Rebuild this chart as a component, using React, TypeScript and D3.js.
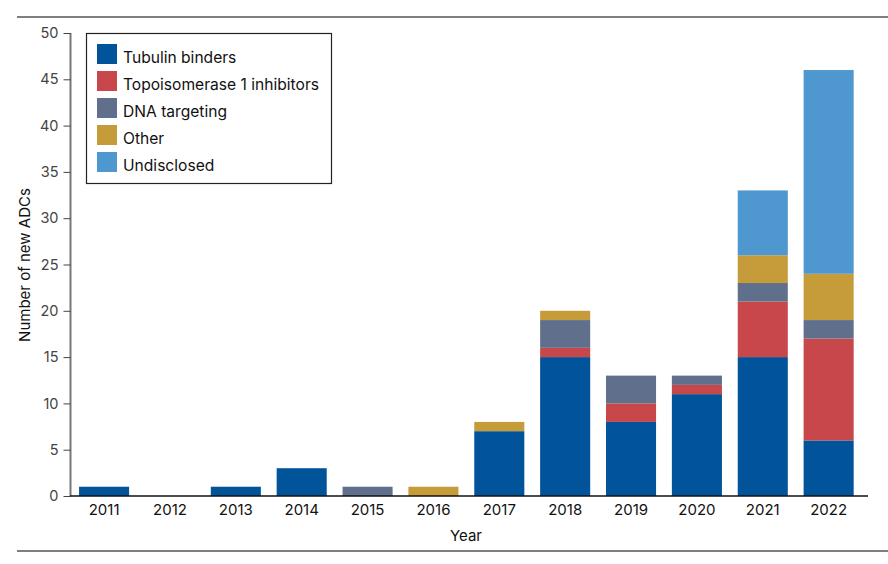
import * as d3 from 'd3';
import { useRef, useEffect } from "react"

const years = ["2011", "2012", "2013", "2014", "2015", "2016", "2017", "2018", "2019", "2020", "2021", "2022"]
const seriesNames = ["Tubulin binders", "Topoisomerase 1 inhibitors", "DNA targeting", "Other", "Undisclosed"]
const tubulin = [1, 0, 1, 3, 0, 0, 7, 15, 8, 11, 15, 6]
const topo1 = [0, 0, 0, 0, 0, 0, 0, 1, 2, 1, 6, 11]
const dnaTargeting = [0, 0, 0, 0, 1, 0, 0, 3, 3, 1, 2, 2]
const other = [0, 0, 0, 0, 0, 1, 1, 1, 0, 0, 3, 5]
const undisclosed = [0, 0, 0, 0, 0, 0, 0, 0, 0, 0, 7, 22]
const yTicks = [0, 5, 10, 15, 20, 25, 30, 35, 40, 45, 50]
const colors = ["#01539a", "#c8474a", "#606f8b", "#c69c3a", "#4e97cf"]

function App() {
    const ref = useRef<SVGSVGElement | null>(null)

    useEffect(() => {
        renderChart();
    }, [])

    function renderChart() {
        const svg = d3.select(ref.current!)
        svg.selectAll("*").remove()
        const font = "Inter, 'Noto Sans', sans-serif"

        // frame lines, top and bottom
        svg.append("line").attr("x1", 17).attr("x2", 888).attr("y1", 17).attr("y2", 17)
            .attr("stroke", "#555").attr("stroke-width", 1.5)
        svg.append("line").attr("x1", 17).attr("x2", 888).attr("y1", 551).attr("y2", 551)
            .attr("stroke", "#555").attr("stroke-width", 1.5)

        const table = years.map((year, i) => ({
            year,
            s0: tubulin[i], s1: topo1[i], s2: dnaTargeting[i], s3: other[i], s4: undisclosed[i]
        }))
        const keys = ["s0", "s1", "s2", "s3", "s4"]
        const stacked = d3.stack<any>().keys(keys)(table)

        const x = d3.scaleBand().domain(years).range([71, 868])
            .paddingInner(0.24).paddingOuter(0.17).align(0.36)
        const y = d3.scaleLinear().domain([0, 50]).range([496, 33])

        // bars
        svg.append("g").selectAll("g")
            .data(stacked)
            .enter()
            .append("g")
            .attr("fill", (_d, i) => colors[i])
            .selectAll("rect")
            .data(d => d)
            .enter()
            .append("rect")
            .attr("x", d => x(d.data.year)!)
            .attr("width", x.bandwidth())
            .attr("y", d => y(d[1]))
            .attr("height", d => y(d[0]) - y(d[1]))

        // Y axis
        const yAxis = svg.append("g")
            .attr("transform", "translate(70.5,0)")
            .call(d3.axisLeft(y).tickValues(yTicks).tickSize(7).tickPadding(5))
        yAxis.select(".domain").attr("stroke", "#777").attr("stroke-width", 2)
            .attr("d", "M0," + y(50) + "V" + y(0))
        yAxis.selectAll(".tick line").attr("stroke", "#444")
        yAxis.selectAll(".tick text").attr("fill", "#444").style("font-family", font).style("font-size", "14.5px")

        // X axis
        const xAxis = svg.append("g")
            .attr("transform", "translate(0,496)")
            .call(d3.axisBottom(x).tickSize(0).tickPadding(8))
        xAxis.select(".domain").attr("stroke", "#111").attr("stroke-width", 1.5)
            .attr("d", "M70,0H868")
        xAxis.selectAll(".tick text").attr("fill", "#111").style("font-family", font).style("font-size", "15px")

        // axis labels
        svg.append("text")
            .attr("x", 466).attr("y", 541)
            .attr("text-anchor", "middle")
            .style("font-family", font).style("font-size", "15px").attr("fill", "#111")
            .text("Year")
        svg.append("text")
            .attr("transform", "translate(30,265) rotate(-90)")
            .attr("text-anchor", "middle")
            .style("font-family", font).style("font-size", "15px").attr("fill", "#111")
            .text("Number of new ADCs")

        // legend
        const legend = svg.append("g")
        legend.append("rect").attr("x", 86.5).attr("y", 33.5).attr("width", 245).attr("height", 150)
            .attr("fill", "white").attr("stroke", "#222").attr("stroke-width", 1.2)
        seriesNames.forEach((name, i) => {
            legend.append("rect").attr("x", 97).attr("y", 44 + i * 27).attr("width", 20).attr("height", 20)
                .attr("fill", colors[i])
            legend.append("text").attr("x", 123).attr("y", 59 + i * 27 + 4)
                .style("font-family", font).style("font-size", "15.6px").attr("fill", "#111")
                .text(name)
        })
    }

    return (
        <svg
            width={888}
            height={564}
            ref={ref}
            style={{ position: 'absolute', left: 0, top: 0, background: 'white' }}
        />
    )
}

export default App;
